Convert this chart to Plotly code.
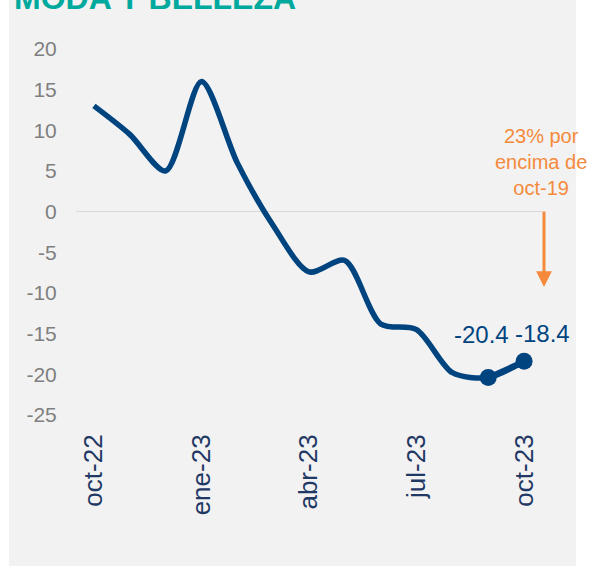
import plotly.graph_objects as go

categories = ["oct-22", "nov-22", "dic-22", "ene-23", "feb-23", "mar-23", "abr-23",
              "may-23", "jun-23", "jul-23", "ago-23", "sep-23", "oct-23"]
values = [13.0, 9.5, 5.0, 16.0, 6.0, -1.7, -7.4, -6.0, -13.8, -14.5, -19.8, -20.4, -18.4]
tick_labels = ["oct-22", "ene-23", "abr-23", "jul-23", "oct-23"]
y_ticks = [20, 15, 10, 5, 0, -5, -10, -15, -20, -25]
y_tick_text = ["20", "15", "10", "5", "0", "-5", "-10", "-15", "-20", "-25"]
title_text = "MODA Y BELLEZA"
note_text = "23% por<br>encima de<br>oct-19"

NAVY = "#00447F"
ORANGE = "#F58A3C"
GRAY_BG = "#F2F2F2"

W, H = 592, 566
L, R, T, B = 76, 50, 49, 151
pw, ph = W - L - R, H - T - B

def px_x(p):
    return (p - L) / pw

def px_y(p):
    return (H - B - p) / ph

fig = go.Figure()

fig.add_trace(go.Scatter(
    x=categories, y=values, mode="lines",
    line=dict(color=NAVY, width=5.5, shape="spline", smoothing=0.8),
    hoverinfo="skip", showlegend=False,
))
fig.add_trace(go.Scatter(
    x=categories[-2:], y=values[-2:], mode="lines+markers",
    line=dict(color=NAVY, width=5.5),
    marker=dict(color=NAVY, size=17),
    hoverinfo="skip", showlegend=False,
))

# background panel
fig.add_shape(type="rect", xref="paper", yref="paper",
              x0=px_x(9), x1=px_x(576), y0=px_y(566), y1=px_y(0),
              fillcolor=GRAY_BG, line=dict(width=0), layer="below")

# data labels
label_shift = [(-7, 43), (18, 28)]
for (c, v), (dx, dy) in zip(zip(categories[-2:], values[-2:]), label_shift):
    fig.add_annotation(x=c, y=v, text=f"{v:.1f}", showarrow=False,
                       xshift=dx, yshift=dy,
                       font=dict(family="Liberation Sans, Arial", size=24, color=NAVY))

# title (cropped at top, as in the source)
fig.add_annotation(xref="paper", yref="paper", x=px_x(12), y=px_y(18),
                   xanchor="left", yanchor="bottom", text=f"<b>{title_text}</b>",
                   showarrow=False,
                   font=dict(family="Liberation Sans, Arial", size=32, color="#00A99D"))

# orange note
fig.add_annotation(xref="paper", yref="paper", x=px_x(541), y=px_y(162),
                   xanchor="center", yanchor="middle", text=note_text,
                   showarrow=False, align="center",
                   font=dict(family="Liberation Sans, Arial", size=20, color=ORANGE))
fig.add_annotation(xref="paper", yref="paper", x=px_x(544), y=px_y(287),
                   text="", showarrow=True, ax=0, ay=-77,
                   arrowhead=2, arrowsize=1.05, arrowwidth=3, arrowcolor=ORANGE)

fig.update_layout(
    width=W, height=H,
    margin=dict(l=L, r=R, t=T, b=B, autoexpand=False),
    paper_bgcolor="white", plot_bgcolor=GRAY_BG,
    font=dict(family="Liberation Sans, Arial"),
    showlegend=False,
)
fig.update_xaxes(
    type="category", range=[-0.5, len(categories) - 0.5],
    tickmode="array", tickvals=tick_labels, ticktext=tick_labels,
    tickangle=-90, tickfont=dict(size=26, color="#1F3864"),
    ticks="outside", ticklen=8, tickcolor="rgba(0,0,0,0)",
    showgrid=False, showline=False, zeroline=False,
)
fig.update_yaxes(
    range=[-25, 20], tickmode="array", tickvals=y_ticks, ticktext=y_tick_text,
    tickfont=dict(size=21, color="#7F7F7F"),
    ticks="outside", ticklen=14, tickcolor="rgba(0,0,0,0)",
    showgrid=False, showline=False,
    zeroline=True, zerolinecolor="#D9D9D9", zerolinewidth=1.5,
)

fig.write_html("out.html",
               config={"displayModeBar": False, "staticPlot": True},
               post_script="document.body.style.margin='0';document.body.style.overflow='hidden';")
